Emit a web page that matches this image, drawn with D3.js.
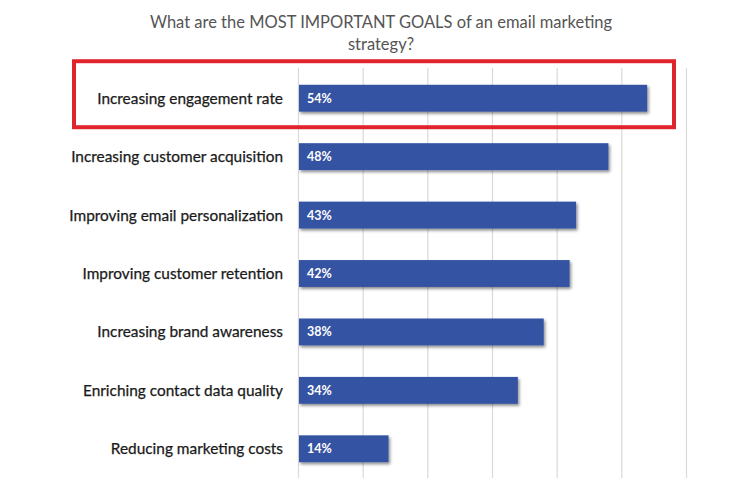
<!DOCTYPE html>
<html>
<head>
<meta charset="utf-8">
<script src="https://cdn.jsdelivr.net/npm/d3@7"></script>
<style>
  html, body { margin: 0; padding: 0; background: #fff; }
  svg { display: block; }
</style>
</head>
<body>
<svg id="chart" width="748" height="498"></svg>
<script>
const categories = [
  "Increasing engagement rate",
  "Increasing customer acquisition",
  "Improving email personalization",
  "Improving customer retention",
  "Increasing brand awareness",
  "Enriching contact data quality",
  "Reducing marketing costs"
];
const values = [54, 48, 43, 42, 38, 34, 14];
const gridTicks = [0, 10, 20, 30, 40, 50, 60];
const titleLines = [
  "What are the MOST IMPORTANT GOALS of an email marketing",
  "strategy?"
];
const highlighted = ["Increasing engagement rate"];

const svg = d3.select("#chart");
const font = "Lato, 'Open Sans', sans-serif";

const x = d3.scaleLinear().domain([0, 60]).range([298, 686]);
const y = d3.scaleBand().domain(categories).range([69, 478]).paddingInner(0.54).paddingOuter(0.27);

const defs = svg.append("defs");
const f = defs.append("filter").attr("id", "shadow").attr("x", "-10%").attr("y", "-30%").attr("width", "120%").attr("height", "170%");
f.append("feDropShadow").attr("dx", 1.5).attr("dy", 2).attr("stdDeviation", 1.5).attr("flood-color", "#000").attr("flood-opacity", 0.45);

// title
svg.append("g").selectAll("text").data(titleLines).join("text")
  .attr("x", 381).attr("y", (d, i) => 28 + i * 22)
  .attr("text-anchor", "middle")
  .attr("font-family", font).attr("font-size", 16.5)
  .attr("fill", "#555")
  .text(d => d);

// gridlines
svg.append("g").selectAll("line").data(gridTicks).join("line")
  .attr("x1", d => x(d) + 0.5).attr("x2", d => x(d) + 0.5)
  .attr("y1", 68).attr("y2", 478)
  .attr("stroke", "#d9d9d9").attr("stroke-width", 1.2);

// bars
svg.append("g").selectAll("rect").data(values).join("rect")
  .attr("x", x(0) + 1)
  .attr("y", (d, i) => y(categories[i]))
  .attr("width", d => x(d) - x(0) - 1)
  .attr("height", y.bandwidth())
  .attr("fill", "#3452a3")
  .attr("filter", "url(#shadow)");

// value labels
svg.append("g").selectAll("text").data(values).join("text")
  .attr("x", x(0) + 9)
  .attr("y", (d, i) => y(categories[i]) + y.bandwidth() / 2)
  .attr("dy", "0.36em")
  .attr("font-family", font).attr("font-size", 12.5).attr("font-weight", "bold")
  .attr("fill", "#fff")
  .text(d => d + "%");

// category labels
svg.append("g").selectAll("text").data(categories).join("text")
  .attr("x", 283)
  .attr("y", d => y(d) + y.bandwidth() / 2)
  .attr("dy", "0.36em")
  .attr("text-anchor", "end")
  .attr("font-family", font).attr("font-size", 15.4)
  .attr("fill", "#1a1a1a")
  .attr("stroke", "#1a1a1a").attr("stroke-width", 0.25)
  .text(d => d);

// highlight box
svg.append("g").selectAll("rect").data(highlighted).join("rect")
  .attr("x", 74)
  .attr("y", d => y(d) + y.bandwidth() / 2 - 37)
  .attr("width", 600)
  .attr("height", 66)
  .attr("fill", "none")
  .attr("stroke", "#e0242b")
  .attr("stroke-width", 4);
</script>
</body>
</html>
